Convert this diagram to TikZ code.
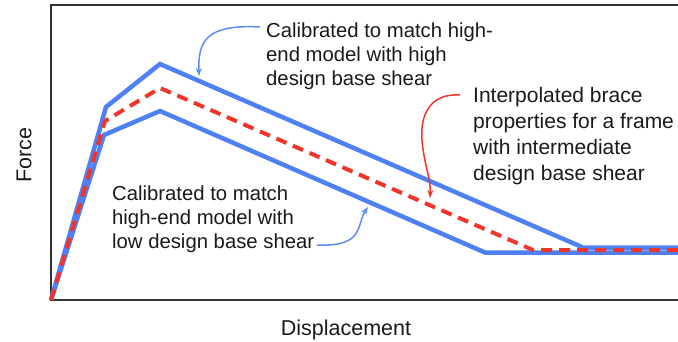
\documentclass[tikz,border=0pt]{standalone}
\usepackage{fontspec}
\setmainfont{Liberation Sans}
\usetikzlibrary{arrows.meta}
\definecolor{cblue}{HTML}{4F80F5}
\definecolor{cred}{HTML}{F2352A}
\definecolor{ablue}{HTML}{5C8CF0}
\definecolor{axisc}{HTML}{333333}
\definecolor{txt}{HTML}{1A1A1A}
\tikzset{
  frameline/.style={line width=1.8pt, axisc},
  bluecurve/.style={line width=4.5pt, cblue, line join=miter},
  redcurve/.style={line width=4pt, cred, line join=miter, dash pattern=on 11pt off 7pt},
  note/.style={font=\fontsize{20.3}{24}\selectfont, align=left, anchor=north west, inner sep=0pt, text=txt},
  axislabel/.style={font=\fontsize{21.5}{25}\selectfont, inner sep=0pt, text=txt},
  callout/.style={line width=1.5pt, -{Stealth[length=8pt,width=6pt]}},
}
\begin{document}
\begin{tikzpicture}[x=1pt,y=-1pt]
\useasboundingbox (0,0) rectangle (678,341);
% frame
\coordinate (TR) at (678,5);
\coordinate (TL) at (51,5);
\coordinate (O) at (51,300);
\coordinate (BR) at (678,300);
\draw[frameline] (TR) -- (TL) -- (O) -- (BR);
% vertices
\coordinate (U1) at (106,107);
\coordinate (U2) at (160,64);
\coordinate (U3) at (583,247.5);
\coordinate (U4) at (678,247.5);
\coordinate (R1) at (105,121);
\coordinate (R2) at (160,88);
\coordinate (R3) at (533,250);
\coordinate (R4) at (678,250);
\coordinate (L1) at (104,135);
\coordinate (L2) at (160,111);
\coordinate (L3) at (485,252.5);
\coordinate (L4) at (678,252.5);
\draw[bluecurve] (O) -- (U1) -- (U2) -- (U3) -- (U4);
\draw[bluecurve] (O) -- (L1) -- (L2) -- (L3) -- (L4);
\draw[redcurve] (O) -- (R1) -- (R2) -- (R3) -- (R4);
% labels
\node[axislabel, rotate=90] (force) at (24,155) {Force};
\node[axislabel, anchor=base] (disp) at (346,335) {Displacement};
\node[note] (top) at (266,23) {Calibrated to match high-\\end model with high\\design base shear};
\node[note, font=\fontsize{21}{25.8}\selectfont] (mid) at (473,87.5) {Interpolated brace\\properties for a frame\\with intermediate\\design base shear};
\node[note] (low) at (112,186) {Calibrated to match\\high-end model with\\low design base shear};
% callouts
\coordinate (a1s) at (260,27);
\coordinate (a1e) at (199,76);
\coordinate (a2s) at (460,95);
\coordinate (a2m) at (422,140);
\coordinate (a2e) at (430,198);
\coordinate (a3s) at (317,245);
\coordinate (a3e) at (368,207);
\draw[callout, ablue] (a1s) .. controls (205,24) and (198,42) .. (a1e);
\draw[callout, cred] (a2s) .. controls (430,93) and (420,115) .. (a2m) .. controls (424,165) and (431,178) .. (a2e);
\draw[callout, ablue] (a3s) .. controls (365,247) and (356,225) .. (a3e);
\end{tikzpicture}
\end{document}
